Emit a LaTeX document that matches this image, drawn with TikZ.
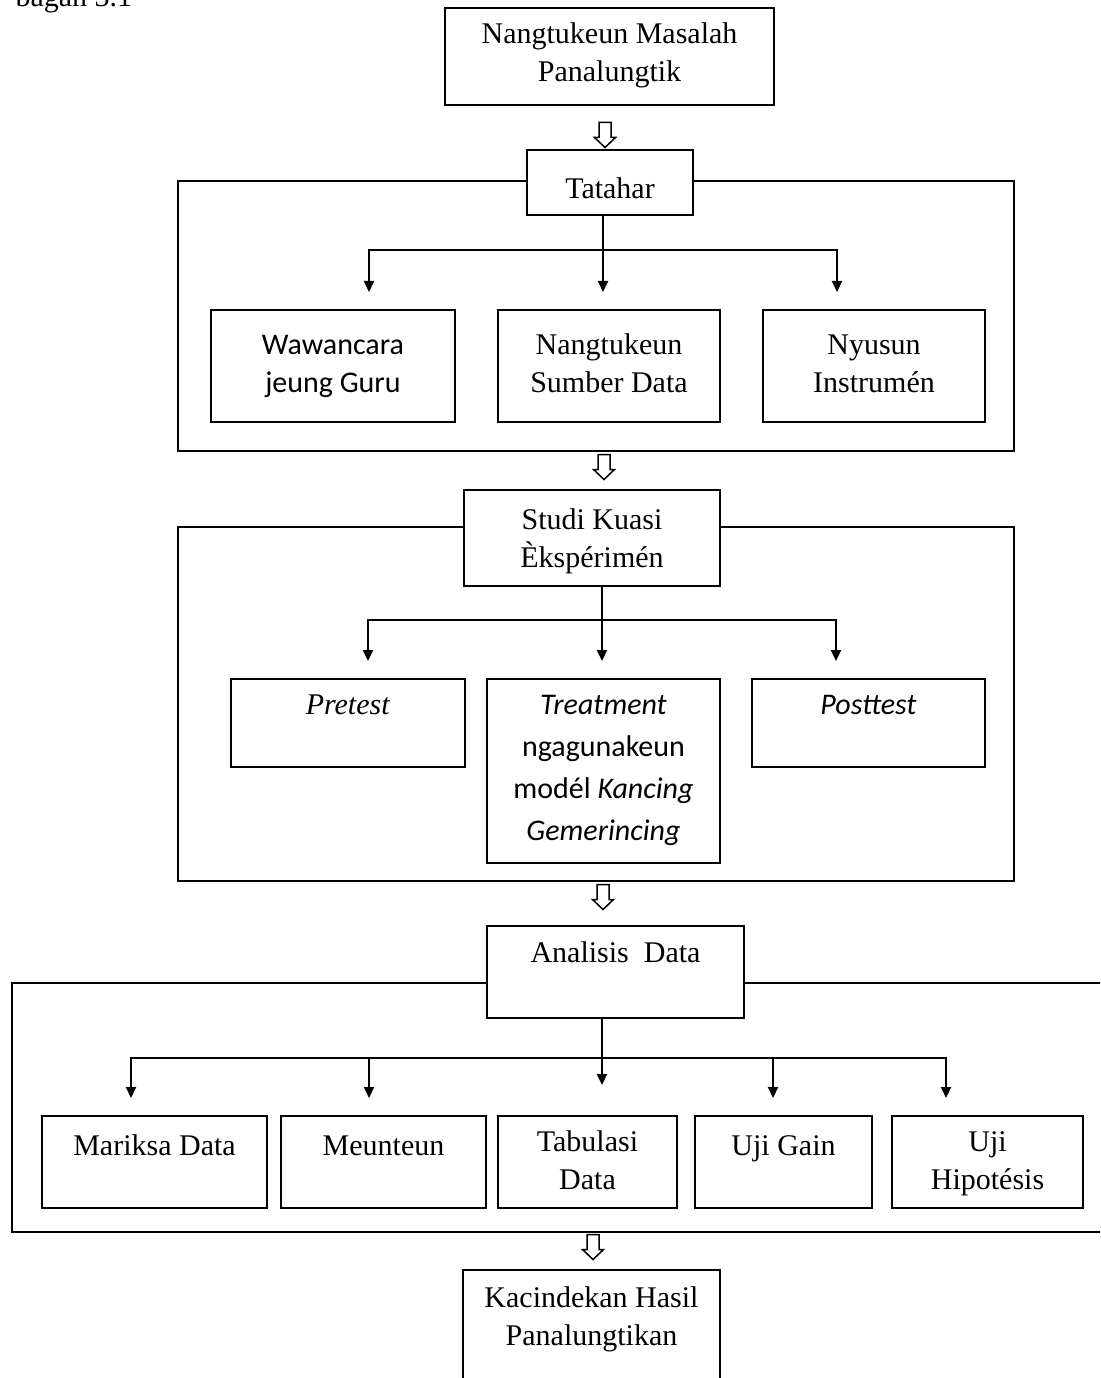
\documentclass[tikz,border=0pt]{standalone}
\usepackage{fontspec}
\setmainfont{Liberation Serif}
\newfontfamily\calibri{Carlito}
\usetikzlibrary{positioning,fit,calc,arrows.meta}

\tikzset{
  box/.style={draw, line width=0.8pt, fill=white, inner sep=0pt},
  frame/.style={draw, line width=0.8pt, inner sep=0pt},
  tnr/.style={font=\fontsize{12}{15.2}\selectfont},
  cal/.style={font=\calibri\fontsize{12}{15.2}\selectfont},
  calwide/.style={font=\calibri\fontsize{12}{16.8}\selectfont},
  % #1 = baseline of the last line, below the top of the box (px)
  boxtext/.style n args={3}{label={[anchor=base, yshift=-#1*0.4pt, inner sep=0pt, align=center, #2]north:{#3}}},
  hollowarrow/.pic={
    \draw[line width=0.6pt] (-6,-12.5) -- (6,-12.5) -- (6,2.5) -- (10.5,2.5) -- (0,12.5)
      -- (-10.5,2.5) -- (-6,2.5) -- cycle;
  },
  branch/.style={line width=0.8pt},
  arr/.style={branch, -{Triangle[width=4pt,length=4.4pt]}},
}

\begin{document}
\begin{tikzpicture}[x=0.4pt, y=-0.4pt]
\path[use as bounding box, clip] (0,0) rectangle (1100,1378);

\node[anchor=base west, tnr, inner sep=0pt] (bagan) at (15,7) {bagan 3.1};

% masalah
\node[box, fit={(445,8) (774,105)}, boxtext={75}{tnr}{Nangtukeun Masalah\\Panalungtik}] (masalah) {};
\pic (h1) at (605,135) {hollowarrow};

% tatahar
\node[frame, fit={(178,181) (1014,451)}] (tatahar-frame) {};
\node[box, fit={(527,150) (693,215)}, boxtext={50}{tnr}{Tatahar}] (tatahar) {};
\node[box, fit={(211,310) (455,422)}, boxtext={83}{cal}{Wawancara\\jeung Guru}] (wawancara) {};
\node[box, fit={(498,310) (720,422)}, boxtext={83}{tnr}{Nangtukeun\\Sumber Data}] (sumber) {};
\node[box, fit={(763,310) (985,422)}, boxtext={83}{tnr}{Nyusun\\Instrumén}] (instrumen) {};
\coordinate (tbar) at (603,250);
\coordinate (t1) at (369,292);
\coordinate (t2) at (603,292);
\coordinate (t3) at (837,292);
\draw[branch] (tatahar.south -| tbar) -- (tbar);
\foreach \c in {t1,t2,t3}
  \draw[arr] (tbar) -| (\c);
\pic (h2) at (604,467) {hollowarrow};

% studi kuasi
\node[frame, fit={(178,527) (1014,881)}] (studi-frame) {};
\node[box, fit={(464,490) (720,586)}, boxtext={78}{tnr}{Studi Kuasi\\Èkspérimén}] (studi) {};
\node[box, fit={(231,679) (465,767)}, boxtext={36}{tnr}{\textit{Pretest}}] (pretest) {};
\node[box, fit={(487,679) (720,863)}, boxtext={162}{calwide}{\textit{Treatment}\\ngagunakeun\\modél \textit{Kancing}\\\textit{Gemerincing}}] (treatment) {};
\node[box, fit={(752,679) (985,767)}, boxtext={36}{cal}{\textit{Posttest}}] (posttest) {};
\coordinate (sbar) at (602,620);
\coordinate (s1) at (368,661);
\coordinate (s2) at (602,661);
\coordinate (s3) at (836,661);
\draw[branch] (studi.south -| sbar) -- (sbar);
\foreach \c in {s1,s2,s3}
  \draw[arr] (sbar) -| (\c);
\pic (h3) at (603,897) {hollowarrow};

% analisis
\node[frame, fit={(12,983) (1130,1232)}] (analisis-frame) {};
\node[box, fit={(487,926) (744,1018)}, boxtext={37}{tnr}{Analisis\ \ Data}] (analisis) {};
\node[box, fit={(42,1116) (267,1208)}, boxtext={40}{tnr}{Mariksa Data}] (mariksa) {};
\node[box, fit={(281,1116) (486,1208)}, boxtext={40}{tnr}{Meunteun}] (meunteun) {};
\node[box, fit={(498,1116) (677,1208)}, boxtext={74}{tnr}{Tabulasi\\Data}] (tabulasi) {};
\node[box, fit={(695,1116) (872,1208)}, boxtext={40}{tnr}{Uji Gain}] (gain) {};
\node[box, fit={(892,1116) (1083,1208)}, boxtext={74}{tnr}{Uji\\Hipotésis}] (hipotesis) {};
\coordinate (abar) at (602,1058);
\coordinate (a1) at (131,1098);
\coordinate (a2) at (369,1098);
\coordinate (a3) at (602,1085);
\coordinate (a4) at (773,1098);
\coordinate (a5) at (946,1098);
\draw[branch] (analisis.south -| abar) -- (abar);
\foreach \c in {a1,a2,a3,a4,a5}
  \draw[arr] (abar) -| (\c);
\pic (h4) at (593,1247) {hollowarrow};

% kacindekan
\node[box, fit={(463,1270) (720,1420)}, boxtext={76}{tnr}{Kacindekan Hasil\\Panalungtikan}] (kacindekan) {};
\end{tikzpicture}
\end{document}
